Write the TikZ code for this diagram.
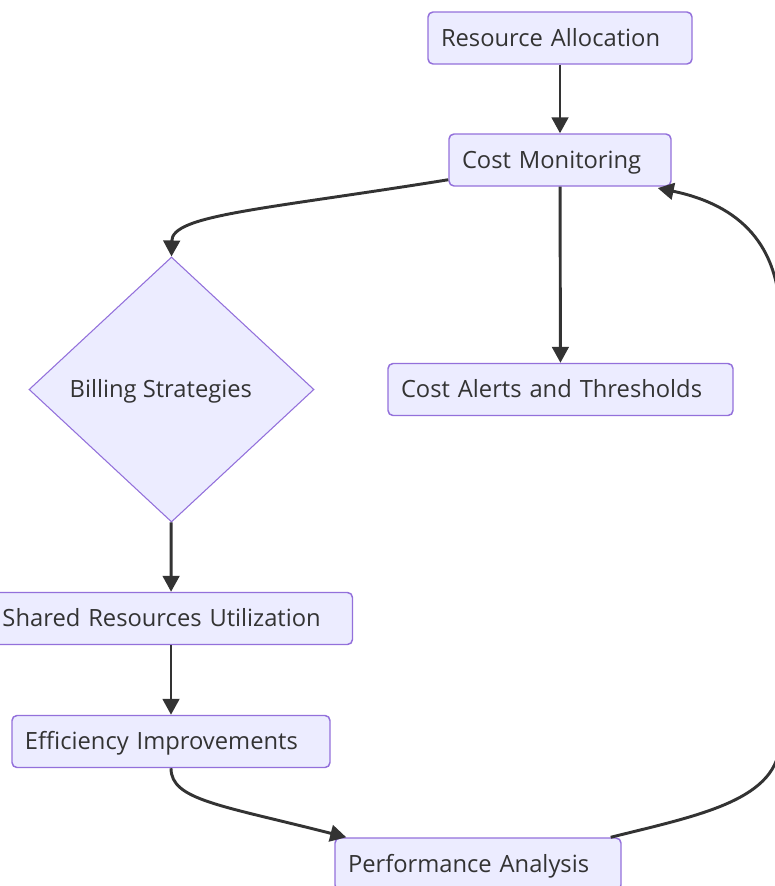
\documentclass[tikz,border=0pt]{standalone}
\usepackage{fontspec}
\setmainfont{Open Sans}
\usepackage{xcolor}
\usetikzlibrary{arrows.meta, shapes.geometric, positioning}

\definecolor{nodefill}{HTML}{ECECFF}
\definecolor{nodeline}{HTML}{9370DB}
\definecolor{edgeline}{HTML}{333333}

\begin{document}
\begin{tikzpicture}[x=0.75pt, y=-0.75pt,
    box/.style={rectangle, rounded corners=3.75pt, draw=nodeline, fill=nodefill,
        line width=1.1pt, minimum height=39pt, inner xsep=9.75pt, inner ysep=0pt,
        text height=14pt, text depth=1.6pt,
        align=left, text=edgeline, font=\fontsize{17.8}{21}\selectfont},
    decision/.style={diamond, draw=nodeline, fill=nodefill, line width=0.8pt,
        minimum width=213.75pt, minimum height=198.75pt, inner sep=0pt,
        text height=14pt, text depth=1.6pt,
        text=edgeline, font=\fontsize{17.8}{21}\selectfont},
    arr/.style={-{Triangle[length=12pt, width=12.5pt]}, line width=2.2pt, draw=edgeline}]
    % Khung hình
    \clip (0,0) rectangle (775,886);

    % Các nút
    \node[box, text width=178.5pt] (ra) at (560,38) {Resource Allocation};
    \node[box, text width=147pt] (cm) at (560,160) {Cost Monitoring};
    \node[decision] (bs) at (171.5,389.5) {Billing Strategies\hspace*{16pt}};
    \node[box, text width=239.25pt] (ca) at (560.5,389.5) {Cost Alerts and Thresholds};
    \node[box, text width=252.75pt] (sr) at (171,618.5) {Shared Resources Utilization};
    \node[box, text width=219pt] (ei) at (171,741.5) {Efficiency Improvements};
    \node[box, text width=195pt] (pa) at (478,864) {Performance Analysis};

    % Các mũi tên thẳng
    \draw[arr] (ra) -- (cm);
    \draw[arr] (cm) -- (ca);
    \draw[arr] (bs) -- (sr);
    \draw[arr] (sr) -- (ei);

    % Các mũi tên cong
    \draw[arr] ([yshift=5.25pt]cm.south west) .. controls (260,210) and (172,215) .. (bs.north);
    \draw[arr] (ei.south) .. controls (171,800) and (220,805) .. ([xshift=9pt]pa.north west);
    \draw[arr] ([xshift=-8.25pt]pa.north east) .. controls (700,815) and (780,800) .. (780,740)
        -- (780,320) .. controls (780,245) and (740,205) .. ([xshift=-10.5pt, yshift=-1pt]cm.south east);
\end{tikzpicture}
\end{document}
